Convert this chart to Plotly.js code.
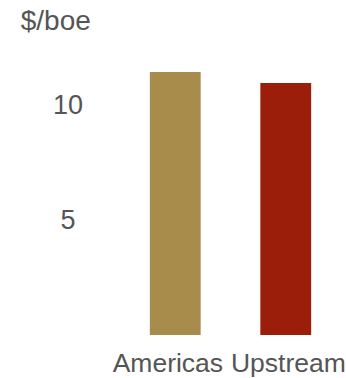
<!DOCTYPE html>
<html><head><meta charset="utf-8">
<script src="https://cdn.plot.ly/plotly-3.0.1.min.js"></script>
<style>html,body{margin:0;padding:0;background:#fff;}</style>
</head><body>
<div id="chart" style="width:346px;height:378px;"></div>
<script>
const categories = ['Americas', 'Upstream'];
const categoryLabels = ['Americas\u00a0\u00a0', '\u2009Upstream'];
const values = [11.43, 10.96];
const barColors = ['#A88C4B', '#9B1E0B'];
const tickValues = [5, 10];
const tickLabels = ['5\u2008', '10'];
const unitLabel = '$/boe';

const data = [{
  type: 'bar',
  x: categories,
  y: values,
  marker: {color: barColors},
  hoverinfo: 'none'
}];

const layout = {
  width: 346, height: 378,
  margin: {l: 120, r: 5, t: 36, b: 43},
  paper_bgcolor: '#fff', plot_bgcolor: '#fff',
  bargap: 0.54,
  showlegend: false,
  font: {family: '"Liberation Sans", Arial, sans-serif', size: 26, color: '#555555'},
  title: {text: unitLabel, x: 0.06, xanchor: 'left', xref: 'container', y: 0.947, yanchor: 'middle', yref: 'container',
          font: {size: 28, color: '#555555'}},
  xaxis: {type: 'category', range: [-0.5, 1.5], showgrid: false, zeroline: false, showline: false, ticks: '',
          tickangle: 0, ticklabelstandoff: 9, tickmode: 'array', tickvals: categories, ticktext: categoryLabels,
          tickfont: {size: 26.5, color: '#555555'}},
  yaxis: {range: [0, 13], showgrid: false, zeroline: false, showline: false, ticks: '',
          tickmode: 'array', tickvals: tickValues, ticktext: tickLabels, ticklabelstandoff: 36,
          tickfont: {size: 27, color: '#555555'}}
};

Plotly.newPlot('chart', data, layout, {staticPlot: true, displayModeBar: false});
</script>
</body></html>
